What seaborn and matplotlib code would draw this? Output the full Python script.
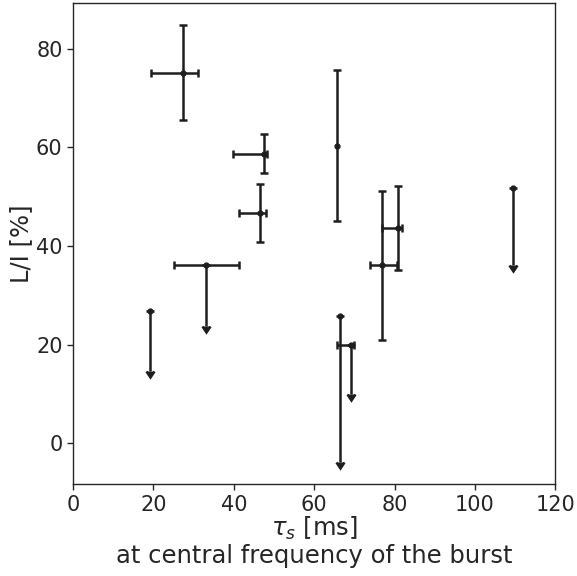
import numpy as np
import pandas as pd
import matplotlib
matplotlib.use("Agg")
import matplotlib.pyplot as plt
import seaborn as sns

# scattering time (ms) and linear polarisation fraction (%) per burst
tau = [27.4, 47.5, 46.6, 65.6, 33.2, 19.1, 66.4, 69.1, 80.8, 76.8, 109.4]
tau_lo = [8.1, 7.8, 5.4, 0.0, 8.0, 0.0, 0.0, 3.5, 4.0, 2.8, 0.0]
tau_hi = [3.6, 0.7, 1.3, 0.0, 8.0, 0.0, 0.0, 0.9, 1.1, 3.7, 0.0]
lin = [75.1, 58.7, 46.7, 60.2, 36.1, 26.7, 25.7, 19.9, 43.7, 36.1, 51.8]
lin_lo = [9.6, 4.0, 6.0, 15.2, 12.4, 12.0, 29.6, 9.9, 8.6, 15.2, 15.7]
lin_hi = [9.7, 3.9, 5.9, 15.4, 0.0, 0.0, 0.0, 0.0, 8.5, 15.1, 0.0]
upper_limit = [False, False, False, False, True, True, True, True, False, False, True]

df = pd.DataFrame({"tau": tau, "tau_lo": tau_lo, "tau_hi": tau_hi,
                   "lin": lin, "lin_lo": lin_lo, "lin_hi": lin_hi,
                   "uplim": upper_limit})

sns.set_style("ticks")
plt.rcParams["font.family"] = ["DejaVu Sans"]

fig = plt.figure(figsize=(5.77, 5.76), dpi=100)
ax = fig.add_axes([0.1265, 0.1592, 0.8359, 0.8356])

c = "#1e1e1e"
style = dict(color=c, ecolor=c, elinewidth=1.8, capsize=3, capthick=1.8)

# vertical bars (with upper limit arrows)
ax.errorbar(df["tau"], df["lin"], yerr=[df["lin_lo"], df["lin_hi"]],
            uplims=df["uplim"].to_numpy(), fmt="o", ms=3.5, **style)

# horizontal bars only where a tau error is given
hx = df[(df["tau_lo"] > 0) | (df["tau_hi"] > 0)]
ax.errorbar(hx["tau"], hx["lin"], xerr=[hx["tau_lo"], hx["tau_hi"]],
            fmt="none", **style)

ax.set_xlim(0, 120)
ax.set_xticks([0, 20, 40, 60, 80, 100, 120])
ax.set_yticks([0, 20, 40, 60, 80])
ax.tick_params(labelsize=15, length=4, width=1, colors="#262626")
for s in ax.spines.values():
    s.set_color("#262626")
    s.set_linewidth(1)
ax.set_xlabel("$\\tau_s$ [ms]\nat central frequency of the burst", fontsize=17.5,
              color="#262626", labelpad=0, linespacing=1.1)
ax.set_ylabel("L/I [%]", fontsize=17.5, color="#262626", labelpad=2)

fig.savefig("out.png", dpi=100)
